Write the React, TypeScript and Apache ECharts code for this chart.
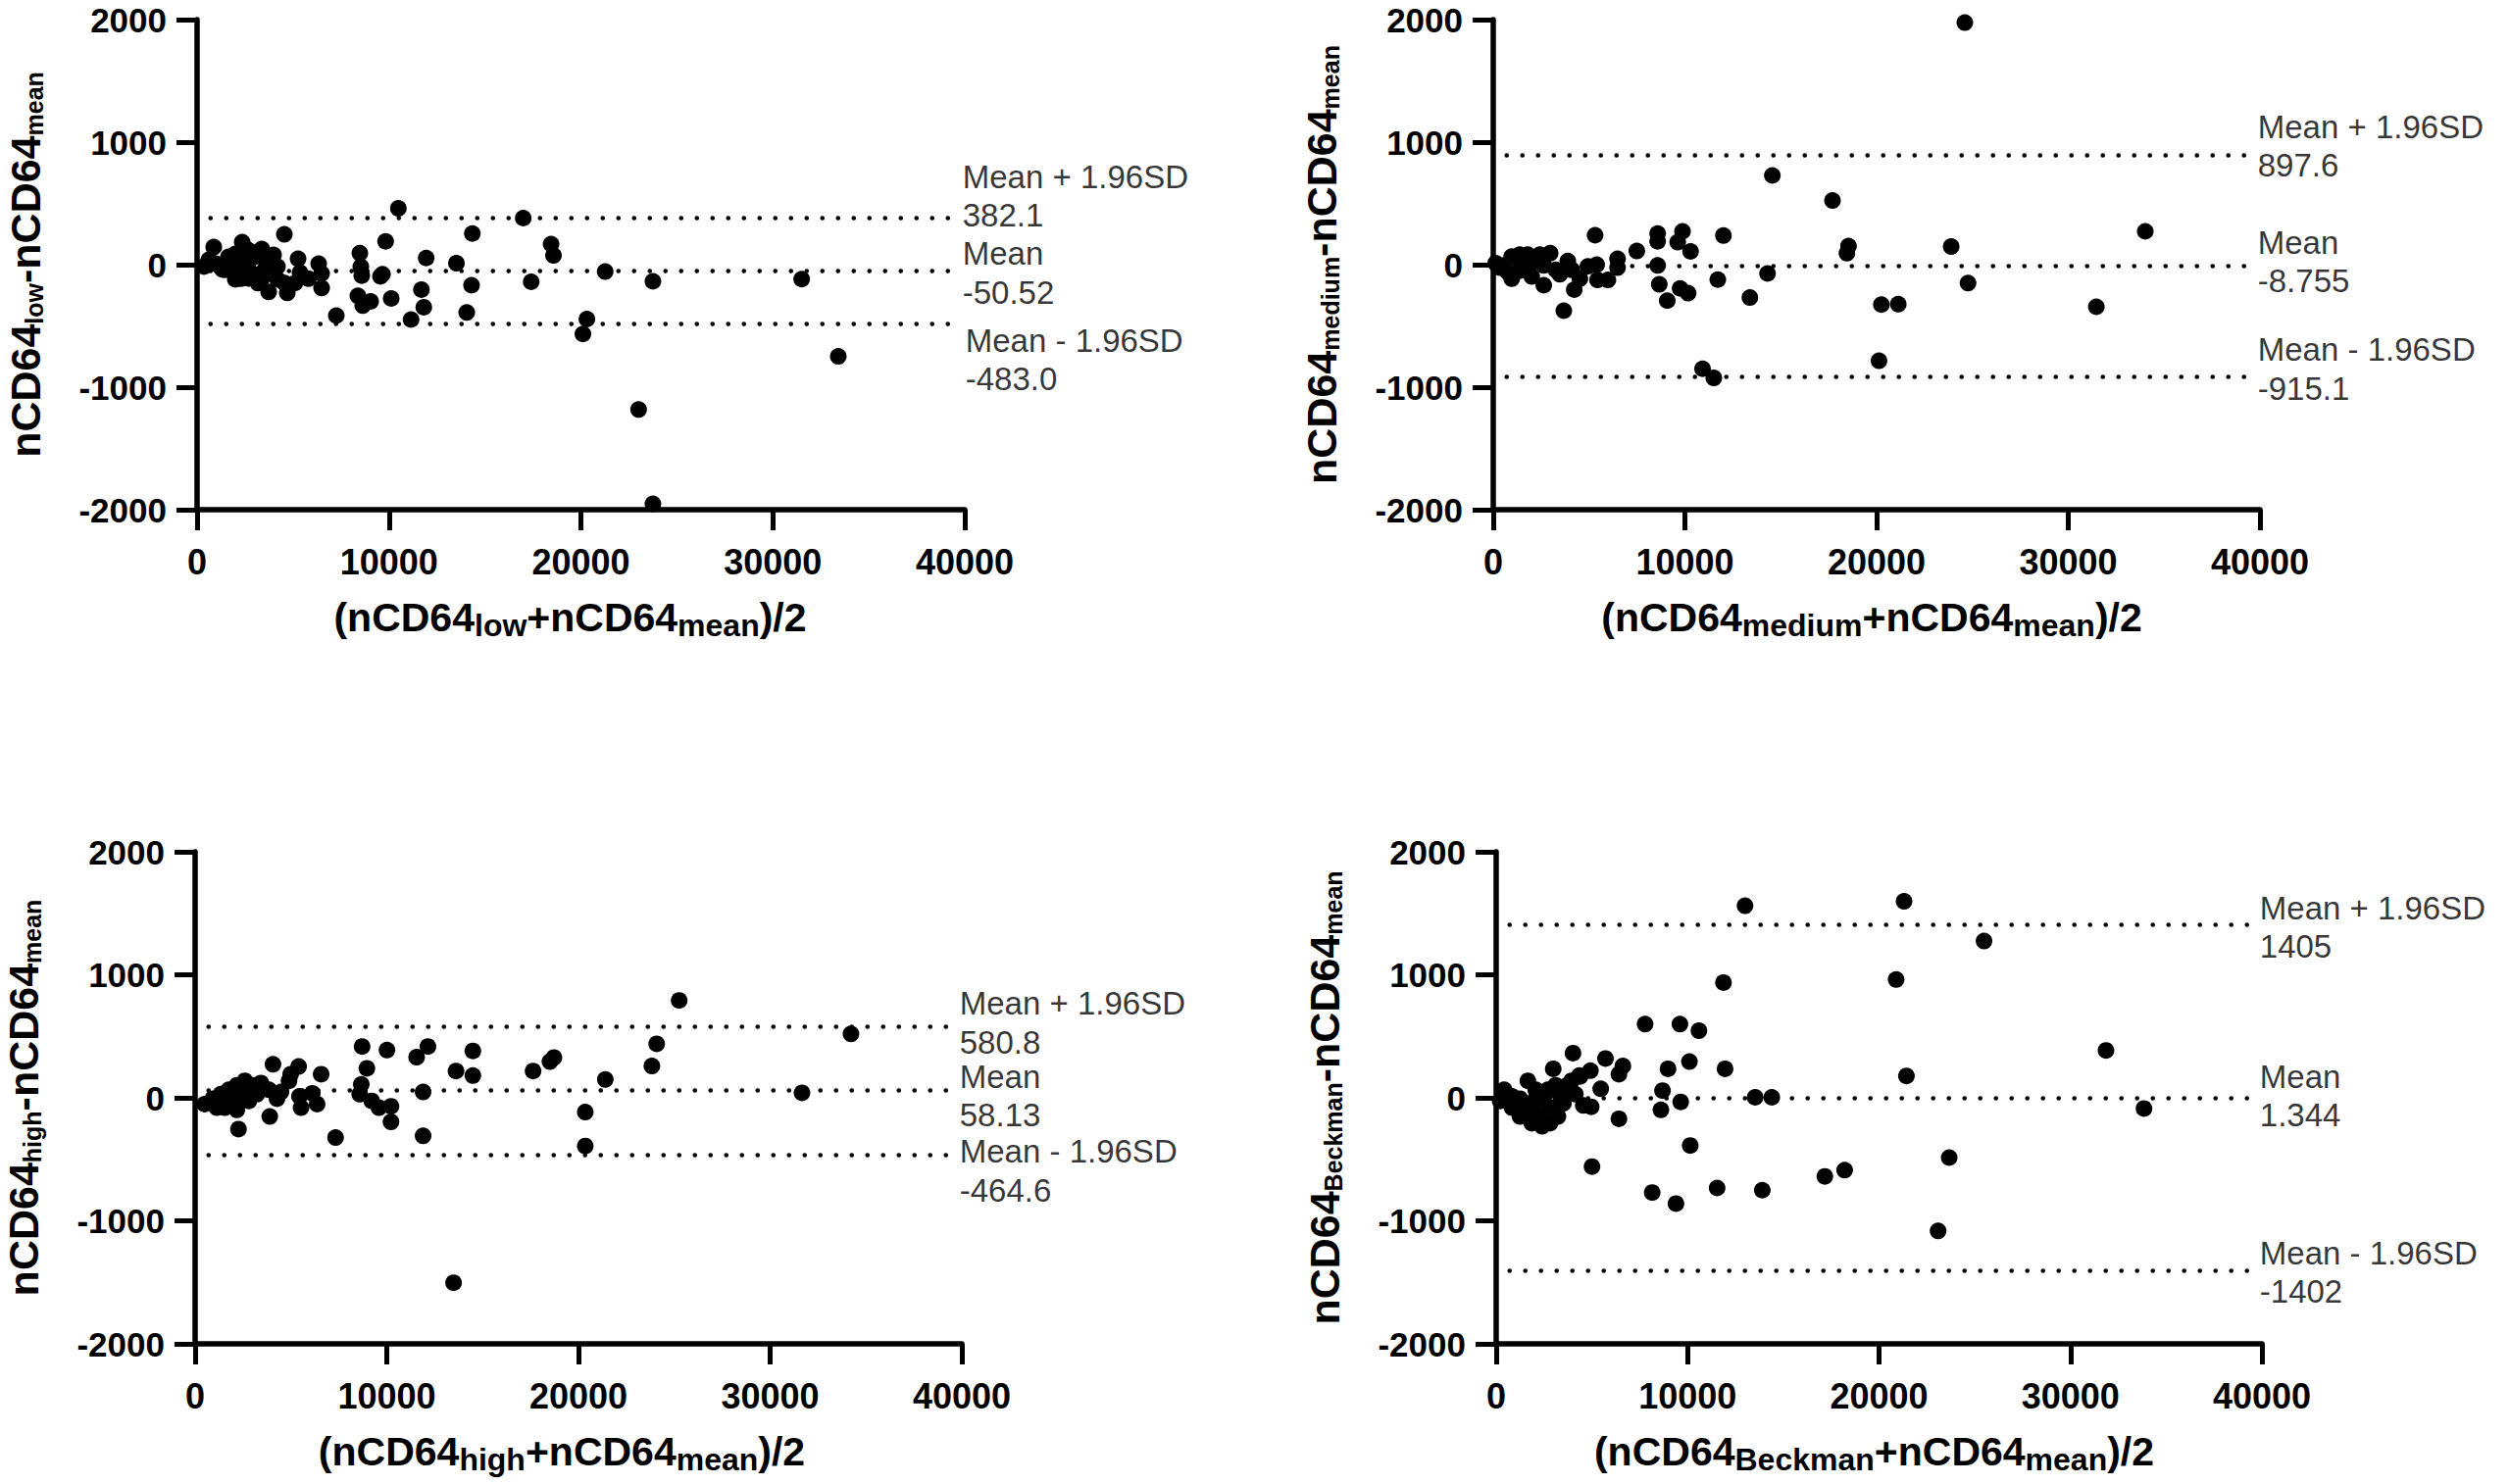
import React, { useEffect, useRef } from "react";
import * as echarts from "echarts";

// ---------- data ----------
const lowPoints: number[][] = [
  [358, -16], [613, 40], [869, 143], [970, 8], [1243, -25], [1328, -40], [1451, -43], [1635, 64], [1635, -16],
  [1865, -7], [1993, 88], [1993, -120], [2072, 65], [2280, -115], [2350, 183], [2350, -40], [2657, 120], [2657, 8],
  [2657, -112], [2861, -72], [3014, 64], [3109, 100], [3168, -151], [3372, 128], [3372, -112], [3525, -40],
  [3679, 40], [3730, -223], [3985, 80], [4190, -16], [4190, -120], [4547, 247], [4560, -150], [4700, -231],
  [5098, -150], [5262, 48], [5364, -64], [5803, -115], [6335, 8], [6489, -72], [6489, -191],
  [7255, -416], [8481, 93], [8532, -16], [8580, -90], [8379, -255], [8634, -335], [9043, -300], [9554, -96],
  [9658, -79], [9824, 190], [10114, -276], [10487, 459], [11150, -448], [11689, -204], [11813, -348], [11938, 54],
  [13513, 11], [14051, -391], [14300, -168], [14342, 254], [16995, 380], [17409, -140], [18445, 168], [18570, 75],
  [20104, -566], [20311, -444], [21264, -57], [23005, -1183], [23751, -136], [23751, -1953], [31503, -118],
  [33409, -749],
];

const mediumPoints: number[][] = [
  [126, 11], [335, -25], [544, -7], [753, -61], [962, 65], [962, -115], [1381, 29], [1381, -50], [1381, 82],
  [1799, 82], [1799, -43], [2008, -97], [2218, 29], [2427, 82], [2636, -7], [2636, -168], [2971, 93], [3264, -43],
  [3473, -79], [3682, -376], [3891, 29], [4100, -43], [4226, -204], [4519, -115], [4937, -14], [5314, 240],
  [5397, 0], [5439, -125], [5983, -125], [6485, 47], [6485, -25],
  [7489, 111], [8577, 254], [8577, 190], [8577, -7], [8661, -161], [9079, -294], [9623, 183], [9749, -194],
  [9874, 272], [10167, -233], [10293, 108], [10920, -850], [11506, -925], [11715, -122], [12008, 237],
  [13389, -269], [14310, -72], [14560, 728], [17698, 523], [18451, 93], [18535, 151], [20125, -785],
  [20250, -326], [21129, -323], [23891, 147], [24602, 1975], [24769, -151], [31463, -344], [34016, 272],
];

const highPoints: number[][] = [
  [503, -51], [921, -7], [1131, -80], [1340, 29], [1549, -80], [1759, 65], [1968, -25], [2178, 102], [2178, -98],
  [2262, -254], [2387, 29], [2596, 138], [2806, -25], [3015, 102], [3225, 29], [3434, 120], [3853, 65],
  [3895, -152], [4062, 272], [4272, -7], [4481, 47], [4900, 138], [4984, 192], [5402, 254], [5444, 11],
  [5528, -80], [6114, 36], [6365, -51], [6575, 192],
  [7329, -323], [8585, 29], [8669, 109], [8711, 417], [8962, 240], [9214, -25], [9590, -80], [10009, 388],
  [10219, -69], [10219, -196], [11558, 330], [11894, 47], [11894, -309], [12145, 417], [13485, -1503],
  [13611, 218], [14490, 381], [14490, 181], [17632, 218], [18511, 294], [18720, 327], [20354, -116],
  [20354, -392], [21400, 149], [23830, 258], [24081, 439], [25254, 791], [31661, 40], [34216, 519],
];

const beckmanPoints: number[][] = [
  [207, -25], [414, 65], [496, 29], [827, 11], [827, -80], [1241, -7], [1241, -152], [1448, -44], [1655, 138],
  [1655, -98], [1862, -207], [1986, -25], [2068, 65], [2275, -134], [2400, -232], [2482, -7], [2689, 65],
  [2813, -207], [2896, -80], [2979, 236], [3103, 102], [3227, -152], [3310, 29], [3516, -44], [3723, 102],
  [3930, 138], [4013, 363], [4137, 29], [4344, 181], [4385, 174], [4551, -62], [4923, 221], [4964, -73],
  [5006, -559], [5461, 73], [5709, 319], [6412, 192], [6412, -171], [6619, 258],
  [7778, 599], [8150, -770], [8605, -98], [8688, 58], [8977, 236], [9391, -860], [9598, 599], [9639, -33],
  [10094, 294], [10136, -388], [10591, 545], [11542, -733], [11873, 937], [11956, 236], [13000, 1561],
  [13528, 4], [13900, -751], [14397, 4], [17168, -639], [18203, -588], [20892, 962], [21306, 1597],
  [21430, 178], [23085, -1082], [23664, -486], [25484, 1274], [31855, 385], [33840, -87],
];

const limitNames = ["Mean + 1.96SD", "Mean", "Mean - 1.96SD"];
const lowLimits = [382.1, -50.52, -483.0];
const lowLimitLabels = ["382.1", "-50.52", "-483.0"];
const mediumLimits = [897.6, -8.755, -915.1];
const mediumLimitLabels = ["897.6", "-8.755", "-915.1"];
const highLimits = [580.8, 58.13, -464.6];
const highLimitLabels = ["580.8", "58.13", "-464.6"];
const beckmanLimits = [1405, 1.344, -1402];
const beckmanLimitLabels = ["1405", "1.344", "-1402"];

const xMin = 0;
const xMax = 40000;
const xInterval = 10000;
const yMin = -2000;
const yMax = 2000;
const yInterval = 1000;
const lineStart = 700;
const lineEnd = 39400;

// ---------- layout ----------
const HALF_LINE = 19.75;
const panels = [
  { sub: "low", points: lowPoints, limits: lowLimits, labels: lowLimitLabels,
    grid: { left: 201, top: 20, width: 783, height: 500 }, shift: [-22, 2, 36.5], dx: [0, 0, 3], titleShift: -11 },
  { sub: "medium", points: mediumPoints, limits: mediumLimits, labels: mediumLimitLabels,
    grid: { left: 1523, top: 20, width: 782, height: 500 }, shift: [-9, -4, -8], dx: [0, 0, 0], titleShift: -5 },
  { sub: "high", points: highPoints, limits: highLimits, labels: highLimitLabels,
    grid: { left: 199, top: 869, width: 782, height: 502 }, shift: [-3.5, 5.3, 16], dx: [0, 0, 0], titleShift: -17 },
  { sub: "Beckman", points: beckmanPoints, limits: beckmanLimits, labels: beckmanLimitLabels,
    grid: { left: 1526, top: 869, width: 781, height: 502 }, shift: [2.5, -1.6, 2], dx: [0, 0, 0], titleShift: -5 },
];

const SANS = "'Liberation Sans', Arial, Helvetica, sans-serif";

export default function App() {
  const ref = useRef<HTMLDivElement>(null);

  useEffect(() => {
    if (!ref.current) return;
    const chart = echarts.init(ref.current, undefined, { renderer: "svg" });

    const grids = panels.map((p) => ({ ...p.grid, containLabel: false }));
    const xAxes = panels.map((p, i) => ({
      type: "value",
      gridIndex: i,
      min: xMin,
      max: xMax,
      interval: xInterval,
      splitLine: { show: false },
      axisLine: { show: true, onZero: false, lineStyle: { color: "#000", width: 5.5 } },
      axisTick: { show: true, length: 21, lineStyle: { color: "#000", width: 5 } },
      axisLabel: {
        margin: 35,
        color: "#000",
        fontFamily: SANS,
        fontWeight: "bold",
        fontSize: 36,
        formatter: (v: number) => String(v),
      },
      name: `{a|(nCD64}{b|${p.sub}}{a|+nCD64}{b|mean}{a|)/2}`,
      nameLocation: "middle",
      nameGap: 86,
      nameTextStyle: {
        padding: p.titleShift < 0 ? [0, -2 * p.titleShift, 0, 0] : [0, 0, 0, 2 * p.titleShift],
        rich: {
          a: { fontFamily: SANS, fontWeight: "bold", fontSize: 41, lineHeight: 48, color: "#000" },
          b: { fontFamily: SANS, fontWeight: "bold", fontSize: 32, lineHeight: 26, color: "#000", verticalAlign: "bottom" },
        },
      },
    }));
    const yAxes = panels.map((p, i) => ({
      type: "value",
      gridIndex: i,
      min: yMin,
      max: yMax,
      interval: yInterval,
      splitLine: { show: false },
      axisLine: { show: true, onZero: false, lineStyle: { color: "#000", width: 5.5 } },
      axisTick: { show: true, length: 21, lineStyle: { color: "#000", width: 5 } },
      axisLabel: {
        margin: 31,
        color: "#000",
        fontFamily: SANS,
        fontWeight: "bold",
        fontSize: 35,
        lineHeight: 28,
        formatter: (v: number) => String(v),
      },
      name: `{a|nCD64}{b|${p.sub}}{a|-nCD64}{b|mean}`,
      nameLocation: "middle",
      nameRotate: 90,
      nameGap: 154,
      nameTextStyle: {
        rich: {
          a: { fontFamily: SANS, fontWeight: "bold", fontSize: 43, lineHeight: 42, color: "#000" },
          b: { fontFamily: SANS, fontWeight: "bold", fontSize: 25, lineHeight: 10, color: "#000", verticalAlign: "bottom" },
        },
      },
    }));

    const series: any[] = [];
    panels.forEach((p, i) => {
      series.push({
        type: "scatter",
        xAxisIndex: i,
        yAxisIndex: i,
        data: p.points,
        symbol: "circle",
        symbolSize: 17,
        itemStyle: { color: "#000", opacity: 1 },
        silent: true,
        z: 3,
        markLine: {
          silent: true,
          symbol: ["none", "none"],
          lineStyle: { color: "#000", width: 4.5, type: [0.1, 15.9], cap: "round", opacity: 1 },
          label: { show: false },
          data: p.limits.map((v) => [{ coord: [lineStart, v] }, { coord: [lineEnd, v] }]),
        },
      });
      // annotation texts for the limit lines, anchored at the line ends
      const labelItems: any[] = [];
      p.limits.forEach((v, k) => {
        labelItems.push({
          value: [lineEnd, v],
          label: { show: true, formatter: limitNames[k], offset: [p.dx[k], p.shift[k] - HALF_LINE] },
        });
        labelItems.push({
          value: [lineEnd, v],
          label: { show: true, formatter: p.labels[k], offset: [p.dx[k], p.shift[k] + HALF_LINE] },
        });
      });
      series.push({
        type: "scatter",
        xAxisIndex: i,
        yAxisIndex: i,
        symbol: "circle",
        symbolSize: 1,
        silent: true,
        itemStyle: { color: "rgba(0,0,0,0)" },
        z: 4,
        label: {
          show: true,
          position: "right",
          distance: 9,
          color: "#000",
          fontFamily: SANS,
          fontSize: 33,
          lineHeight: 33,
          align: "left",
          verticalAlign: "middle",
        },
        data: labelItems,
      });
    });

    chart.setOption({
      animation: false,
      backgroundColor: "#fff",
      grid: grids,
      xAxis: xAxes,
      yAxis: yAxes,
      series,
    } as any);

    const onResize = () => chart.resize();
    window.addEventListener("resize", onResize);
    return () => {
      window.removeEventListener("resize", onResize);
      chart.dispose();
    };
  }, []);

  return (
    <div
      ref={ref}
      style={{ position: "fixed", left: 0, top: 0, width: "100vw", height: "100vh", background: "#fff" }}
    />
  );
}
